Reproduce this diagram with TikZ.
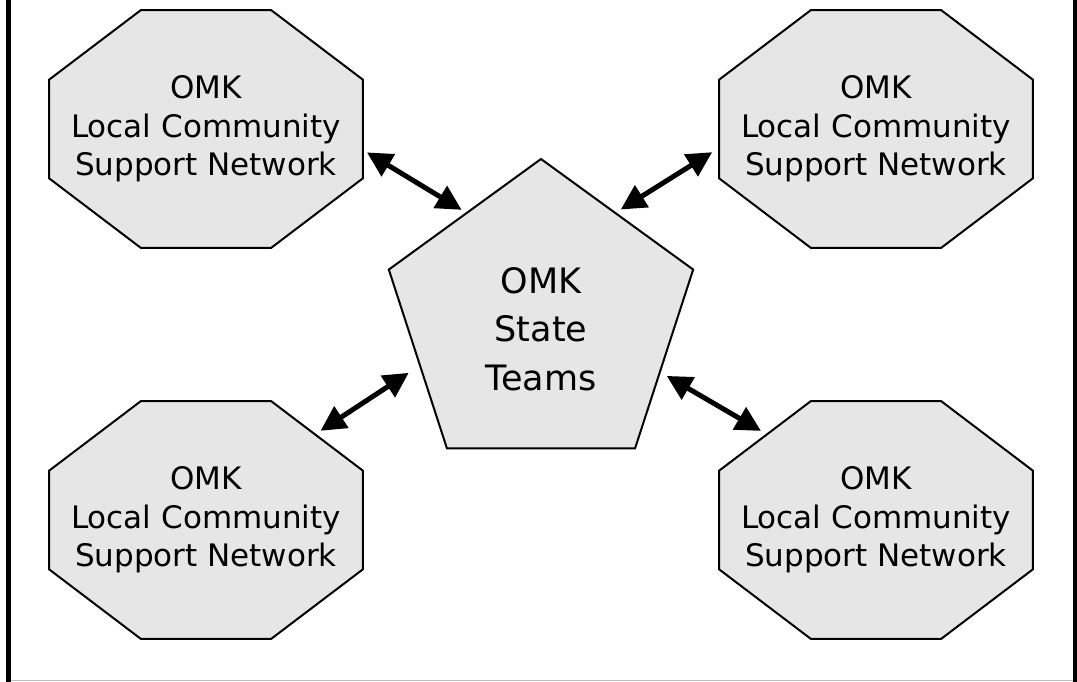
\documentclass[tikz,border=0pt]{standalone}
\usepackage{fontspec}
\setmainfont{DejaVu Sans}
\usetikzlibrary{shapes.geometric,arrows.meta}
\definecolor{shapefill}{HTML}{E6E6E6}
\tikzset{
  octbox/.style={regular polygon, regular polygon sides=8, minimum size=257.6pt,
    xscale=1.319, inner sep=0pt, outer sep=0pt,
    draw, line width=2pt, fill=shapefill},
  octtext/.style={align=center, font=\fontsize{31}{38.5}\selectfont},
  pentbox/.style={regular polygon, regular polygon sides=5, minimum size=320pt,
    inner sep=0pt, outer sep=0pt, draw, line width=2pt, fill=shapefill},
  penttext/.style={align=center, font=\fontsize{35}{48.5}\selectfont},
  link/.style={line width=5pt,
    {Triangle[length=25pt,width=25pt]}-{Triangle[length=25pt,width=25pt]}}
}
\begin{document}
\begin{tikzpicture}[x=1pt,y=-1pt]
  \useasboundingbox (0,0) rectangle (1077,682);
  % frame
  \draw [black!25,line width=1.5pt] (8,680.5) -- (1075,680.5);
  \draw [line width=5pt] (8.5,0) -- (8.5,682);
  \draw [line width=4pt] (1074.7,0) -- (1074.7,682);
  % local networks
  \node [octbox] (tl) at (206,129) {};
  \node [octbox] (tr) at (876,129) {};
  \node [octbox] (bl) at (206,520) {};
  \node [octbox] (br) at (876,520) {};
  \node [octtext] (tltext) at (tl) {OMK\\Local Community\\Support Network};
  \node [octtext] (trtext) at (tr) {OMK\\Local Community\\Support Network};
  \node [octtext] (bltext) at (bl) {OMK\\Local Community\\Support Network};
  \node [octtext] (brtext) at (br) {OMK\\Local Community\\Support Network};
  % state teams
  \node [pentbox] (state) at (541,319) {};
  \node [penttext] (statetext) at ([yshift=-10pt]state.center) {OMK\\State\\Teams};
  % links
  \draw [link,shorten <=4.7pt,shorten >=6pt] (tl.-10.24) -- (state.125.9);
  \draw [link,shorten <=8.2pt,shorten >=6.5pt] (tr.189.9) -- (state.55.5);
  \draw [link,shorten <=6.6pt,shorten >=13.5pt] (bl.46.46) -- (state.201.6);
  \draw [link,shorten <=6.9pt,shorten >=7.9pt] (br.134.96) -- (state.336.5);
\end{tikzpicture}
\end{document}
